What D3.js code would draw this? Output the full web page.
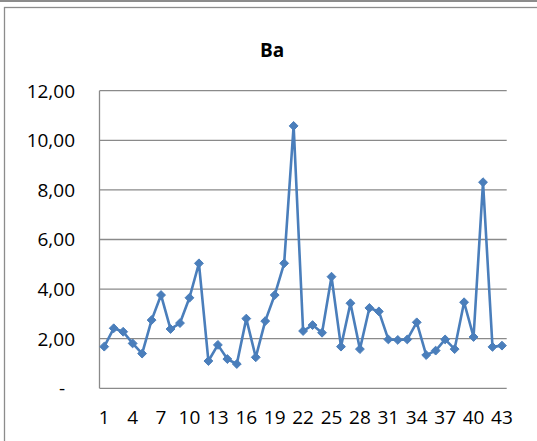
<!DOCTYPE html>
<html><head><meta charset="utf-8">
<script src="https://cdn.jsdelivr.net/npm/d3@7"></script>
<style>
html,body{margin:0;padding:0;background:#fff;}
svg{display:block;}
text{font-family:"Open Sans",sans-serif;fill:#000;}
</style></head>
<body>
<script>
const title = "Ba";
const categories = d3.range(1, 44);
const values = [1.68,2.42,2.28,1.81,1.40,2.75,3.76,2.39,2.63,3.65,
  5.04,1.10,1.75,1.18,0.98,2.81,1.25,2.71,3.76,5.04,
  10.58,2.31,2.55,2.24,4.50,1.68,3.43,1.58,3.24,3.10,
  1.97,1.95,1.97,2.66,1.34,1.52,1.97,1.58,3.47,2.07,
  8.31,1.67,1.72];
const yTicks = [0,2,4,6,8,10,12];
const xTickLabels = [1,4,7,10,13,16,19,22,25,28,31,34,37,40,43];

const W = 537, H = 441;
const svg = d3.select("body").append("svg").attr("width", W).attr("height", H);

// outer borders
svg.append("line").attr("x1",0).attr("x2",W).attr("y1",1).attr("y2",1)
  .attr("stroke","#8c8c8c").attr("stroke-width",1.8);
svg.append("rect").attr("x",4.5).attr("y",7.5).attr("width",W+10).attr("height",H+10)
  .attr("fill","none").attr("stroke","#8c8c8c").attr("stroke-width",1.3);

const plot = {left:99.5, right:506.7, top:90.7, bottom:388.3};

const x = d3.scaleBand().domain(categories).range([plot.left, plot.right]).padding(0);
const y = d3.scaleLinear().domain([0,12]).range([plot.bottom, plot.top]);
const cx = d => x(d) + x.bandwidth()/2;

// gridlines
svg.append("g").selectAll("line").data(yTicks.filter(t=>t>0)).join("line")
  .attr("x1", plot.left).attr("x2", plot.right)
  .attr("y1", d=>y(d)).attr("y2", d=>y(d))
  .attr("stroke","#8a8a8a").attr("stroke-width",1.3);

// axes lines
svg.append("line").attr("x1",plot.left).attr("x2",plot.left).attr("y1",plot.top).attr("y2",plot.bottom)
  .attr("stroke","#8a8a8a").attr("stroke-width",1.3);
svg.append("line").attr("x1",plot.left).attr("x2",plot.right).attr("y1",plot.bottom).attr("y2",plot.bottom)
  .attr("stroke","#8a8a8a").attr("stroke-width",1.3);

// y labels
const fmt = v => v === 0 ? "-" : v.toFixed(2).replace(".", ",");
svg.append("g").selectAll("text").data(yTicks).join("text")
  .attr("x", d => d === 0 ? 62 : 75)
  .attr("y", d => y(d))
  .attr("dy","0.36em")
  .attr("text-anchor", d => d === 0 ? "middle" : "end")
  .style("font-size", "19px")
  .text(fmt);

// x labels
svg.append("g").selectAll("text").data(xTickLabels).join("text")
  .attr("x", d => cx(d))
  .attr("y", 424)
  .attr("text-anchor","middle")
  .style("font-size", "19px")
  .text(d => d);

// title
svg.append("text").attr("x", 272).attr("y", 57).attr("text-anchor","middle")
  .style("font-size","19px").attr("font-weight","bold").text(title);

// line
const data = categories.map((c,i)=>({c, v: values[i]}));
svg.append("path").datum(data)
  .attr("fill","none").attr("stroke","#4a7ebb").attr("stroke-width",2.6)
  .attr("stroke-linejoin","round")
  .attr("d", d3.line().x(d=>cx(d.c)).y(d=>y(d.v)));

// markers
svg.append("g").selectAll("path").data(data).join("path")
  .attr("transform", d => `translate(${cx(d.c)},${y(d.v)})`)
  .attr("d", d3.symbol().type(d3.symbolDiamond2).size(50))
  .attr("fill","#4a7ebb").attr("stroke","#4a7ebb").attr("stroke-width",1);
</script>
</body></html>
